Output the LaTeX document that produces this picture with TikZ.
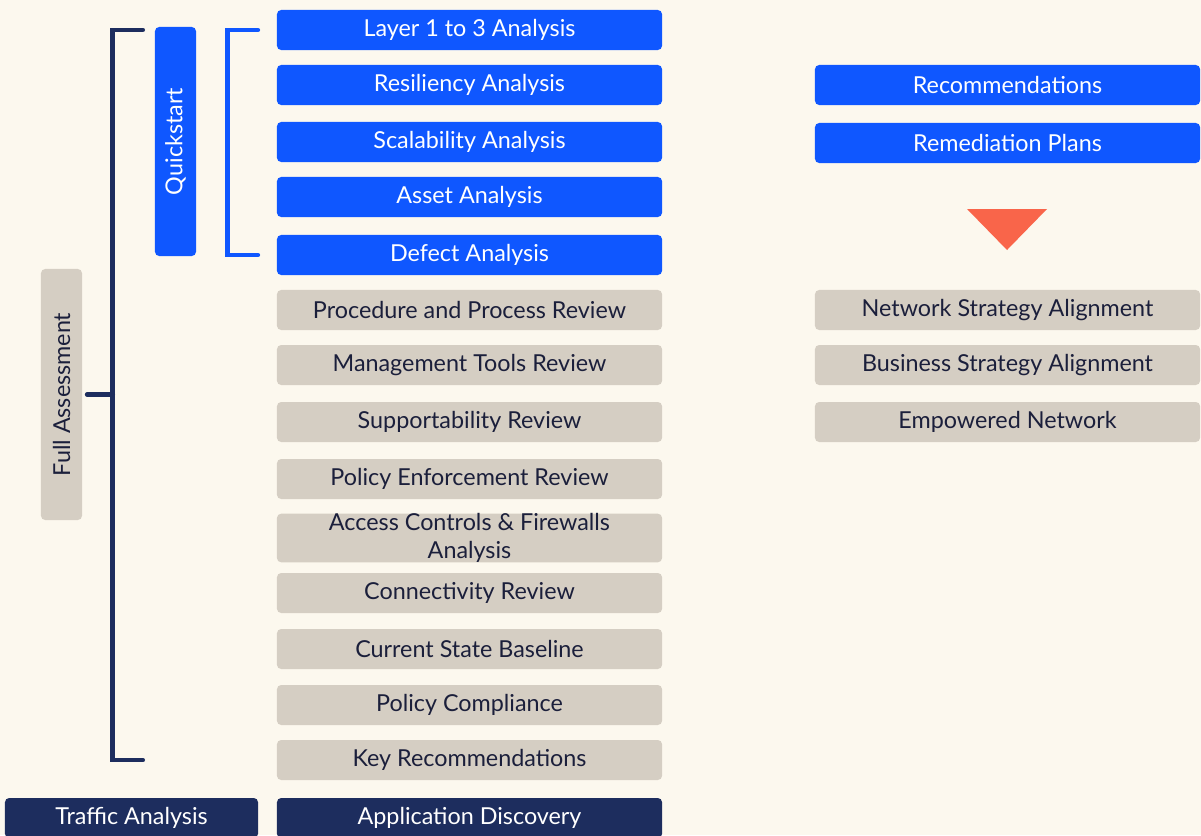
\documentclass[tikz,border=0pt]{standalone}
\usepackage{fontspec}
\setmainfont{Lato}
\usetikzlibrary{positioning}
\definecolor{bg}{HTML}{FCF8EE}
\definecolor{qblue}{HTML}{0F57FF}
\definecolor{navy}{HTML}{1D2D5E}
\definecolor{sand}{HTML}{D5CEC3}
\definecolor{ink}{HTML}{1B1F3B}
\definecolor{coral}{HTML}{F9654A}
\tikzset{
box/.style={rounded corners=3pt, minimum width=9.625cm, minimum height=1cm, inner sep=0pt, align=center, font=\fontsize{16.6}{19.5}\selectfont},
qbox/.style={box, fill=qblue, text=white},
rbox/.style={box, fill=sand, text=ink},
nbox/.style={box, fill=navy, text=white},
side/.style={box, rotate=90, minimum height=1.025cm},
bracket/.style={line width=3.5pt, line cap=round}
}
\begin{document}
\begin{tikzpicture}[x=0.025cm, y=-0.025cm]
\useasboundingbox[fill=bg] (0,0) rectangle (1201,835);
\foreach \n/\y/\t in {1/30/Layer 1 to 3 Analysis, 2/85/Resiliency Analysis, 3/142/Scalability Analysis, 4/197/Asset Analysis, 5/255/Defect Analysis}
\node[qbox] (qs\n) at (469.5,\y) {\t};
\foreach \n/\y/\t in {1/310/Procedure and Process Review, 2/365/Management Tools Review, 3/422/Supportability Review, 4/479/Policy Enforcement Review, 5/538/{Access Controls \& Firewalls\\Analysis}, 6/593/Connectivity Review, 7/649/Current State Baseline, 8/705/Policy Compliance, 9/760/Key Recommendations}
\node[rbox] (fa\n) at (469.5,\y) {\t};
\node[nbox] (app) at (469.5,818) {Application Discovery};
\node[nbox, minimum width=6.325cm] (traffic) at (131.5,818) {Traffic Analysis};
\node[qbox] (rec) at (1007.5,85) {Recommendations};
\node[qbox] (rem) at (1007.5,143) {Remediation Plans};
\foreach \n/\y/\t in {1/310/Network Strategy Alignment, 2/365/Business Strategy Alignment, 3/422/Empowered Network}
\node[rbox] (out\n) at (1007.5,\y) {\t};
\fill[coral] (967,209) -- (1047,209) -- (1007,250) -- cycle;
\node[side, fill=qblue, text=white, minimum width=5.725cm] (quick) at (175.5,141.5) {Quickstart};
\node[side, fill=sand, text=ink, minimum width=6.275cm] (full) at (61.5,394.5) {Full Assessment};
\draw[bracket, qblue] ([xshift=-0.475cm]qs1.west) -| ([xshift=-1.225cm]qs5.west) -- ([xshift=-0.475cm]qs5.west);
\draw[bracket, navy] ([xshift=-3.35cm]qs1.west) -| ([xshift=-4.1cm]fa9.west) coordinate (fb) -- ([xshift=-3.35cm]fa9.west);
\draw[bracket, navy] ([xshift=0.125cm]full.south) -- (full.south -| fb);
\end{tikzpicture}
\end{document}
